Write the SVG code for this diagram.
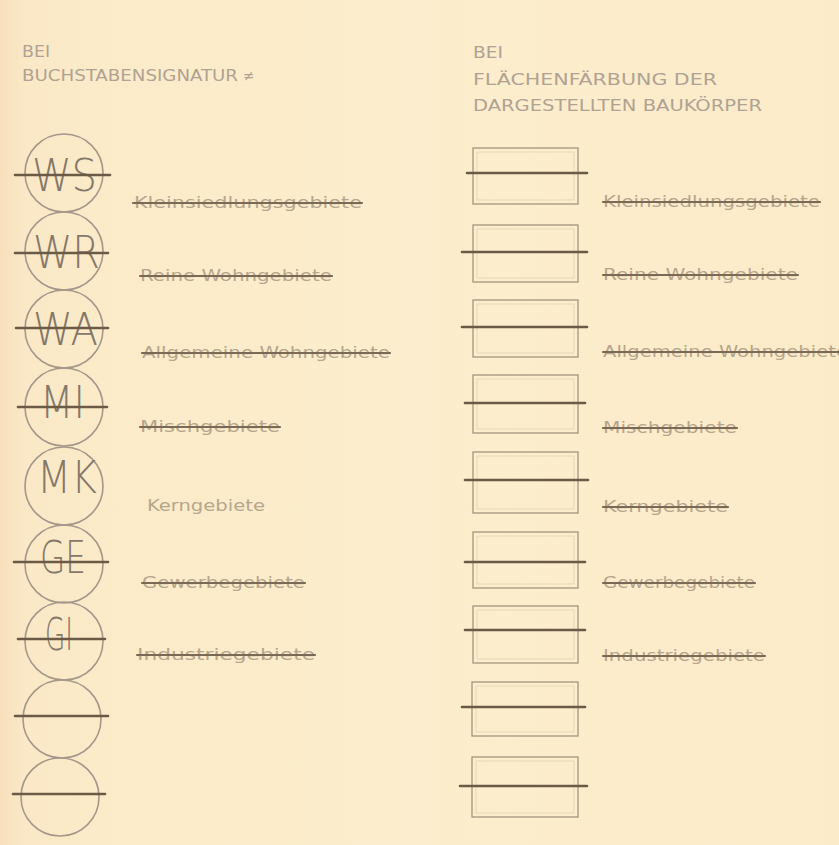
<svg xmlns="http://www.w3.org/2000/svg" width="839" height="845" viewBox="0 0 839 845">
<defs>
<linearGradient id="bg" x1="0" y1="0" x2="1" y2="0">
<stop offset="0" stop-color="#f8e0bc"/>
<stop offset="0.03" stop-color="#fae8c6"/>
<stop offset="0.12" stop-color="#fbebc9"/>
<stop offset="0.6" stop-color="#fcedcc"/>
<stop offset="1" stop-color="#fcebc9"/>
</linearGradient>
<style>
.hd{font-family:"DejaVu Sans Condensed","DejaVu Sans",sans-serif;font-size:15px;fill:#b0a293;}
.sig{font-family:"DejaVu Sans","Liberation Sans",sans-serif;font-weight:200;font-size:44px;fill:#85786a;}
.lb{font-family:"DejaVu Sans Condensed","Liberation Sans",sans-serif;font-size:16px;fill:#b6a68d;}
.cir{fill:none;stroke:#a5978a;stroke-width:1.6;}
.box{fill:none;stroke:#a3947f;stroke-width:1.3;}
.inner{fill:none;stroke:#e6d7b9;stroke-width:1;}
.st{stroke:#6b5a45;stroke-width:2.6;stroke-linecap:round;fill:none;}
.sl{stroke:#7a6a55;stroke-width:2.2;stroke-linecap:round;fill:none;}
</style>
</defs>
<rect width="839" height="845" fill="url(#bg)"/>
<rect x="305" y="0" width="135" height="845" fill="#fdf0d2" opacity="0.35"/>

<g id="header-left">
<text class="hd" x="22" y="57" textLength="28" lengthAdjust="spacingAndGlyphs">BEI</text>
<text class="hd" x="22" y="81" textLength="216" lengthAdjust="spacingAndGlyphs">BUCHSTABENSIGNATUR</text>
<text class="hd" x="243" y="81" font-size="11">≠</text>
</g>
<g id="header-right">
<text class="hd" x="473" y="58" textLength="30" lengthAdjust="spacingAndGlyphs">BEI</text>
<text class="hd" x="473" y="85" textLength="244" lengthAdjust="spacingAndGlyphs">FLÄCHENFÄRBUNG DER</text>
<text class="hd" x="473" y="111" textLength="289" lengthAdjust="spacingAndGlyphs">DARGESTELLTEN BAUKÖRPER</text>
</g>

<g id="sig-WS">
<circle class="cir" cx="64" cy="173" r="39"/>
<text class="sig" x="32" y="191" textLength="65" lengthAdjust="spacingAndGlyphs">WS</text>
<text class="lb" x="134" y="208" textLength="228" lengthAdjust="spacingAndGlyphs">Kleinsiedlungsgebiete</text>
</g>
<g id="sig-WR">
<circle class="cir" cx="64" cy="251" r="39"/>
<text class="sig" x="33" y="268" textLength="67" lengthAdjust="spacingAndGlyphs">WR</text>
<text class="lb" x="140" y="281" textLength="192" lengthAdjust="spacingAndGlyphs">Reine Wohngebiete</text>
</g>
<g id="sig-WA">
<circle class="cir" cx="64" cy="329" r="39"/>
<text class="sig" x="33" y="345" textLength="65" lengthAdjust="spacingAndGlyphs">WA</text>
<text class="lb" x="142" y="358" textLength="248" lengthAdjust="spacingAndGlyphs">Allgemeine Wohngebiete</text>
</g>
<g id="sig-MI">
<circle class="cir" cx="64" cy="407" r="39"/>
<text class="sig" x="40" y="418" textLength="45" lengthAdjust="spacingAndGlyphs">MI</text>
<text class="lb" x="140" y="432" textLength="140" lengthAdjust="spacingAndGlyphs">Mischgebiete</text>
</g>
<g id="sig-MK">
<circle class="cir" cx="64" cy="486" r="39"/>
<text class="sig" x="37" y="493" textLength="60" lengthAdjust="spacingAndGlyphs">MK</text>
<text class="lb" x="147" y="511" font-size="18" textLength="118" lengthAdjust="spacingAndGlyphs">Kerngebiete</text>
</g>
<g id="sig-GE">
<circle class="cir" cx="64" cy="564" r="39"/>
<text class="sig" x="40" y="573" textLength="46" lengthAdjust="spacingAndGlyphs">GE</text>
<text class="lb" x="142" y="588" textLength="163" lengthAdjust="spacingAndGlyphs">Gewerbegebiete</text>
</g>
<g id="sig-GI">
<circle class="cir" cx="64" cy="641" r="39"/>
<text class="sig" x="45" y="650" textLength="28" lengthAdjust="spacingAndGlyphs">GI</text>
<text class="lb" x="137" y="660" textLength="178" lengthAdjust="spacingAndGlyphs">Industriegebiete</text>
</g>
<g id="sig-blank-1">
<circle class="cir" cx="62" cy="719" r="39"/>
</g>
<g id="sig-blank-2">
<circle class="cir" cx="60" cy="797" r="39"/>
</g>

<g id="box-1">
<rect class="box" x="473" y="148" width="105" height="56"/>
<rect class="inner" x="477" y="152" width="97" height="48"/>
<text class="lb" x="603" y="207" textLength="217" lengthAdjust="spacingAndGlyphs">Kleinsiedlungsgebiete</text>
</g>
<g id="box-2">
<rect class="box" x="473" y="225" width="105" height="57"/>
<rect class="inner" x="477" y="229" width="97" height="49"/>
<text class="lb" x="603" y="280" textLength="195" lengthAdjust="spacingAndGlyphs">Reine Wohngebiete</text>
</g>
<g id="box-3">
<rect class="box" x="473" y="300" width="105" height="57"/>
<rect class="inner" x="477" y="304" width="97" height="49"/>
<text class="lb" x="603" y="357" textLength="245" lengthAdjust="spacingAndGlyphs">Allgemeine Wohngebiete</text>
</g>
<g id="box-4">
<rect class="box" x="473" y="375" width="105" height="58"/>
<rect class="inner" x="477" y="379" width="97" height="50"/>
<text class="lb" x="603" y="433" textLength="134" lengthAdjust="spacingAndGlyphs">Mischgebiete</text>
</g>
<g id="box-5">
<rect class="box" x="473" y="452" width="105" height="61"/>
<rect class="inner" x="477" y="456" width="97" height="53"/>
<text class="lb" x="603" y="512" textLength="125" lengthAdjust="spacingAndGlyphs">Kerngebiete</text>
</g>
<g id="box-6">
<rect class="box" x="473" y="532" width="105" height="56"/>
<rect class="inner" x="477" y="536" width="97" height="48"/>
<text class="lb" x="603" y="588" textLength="152" lengthAdjust="spacingAndGlyphs">Gewerbegebiete</text>
</g>
<g id="box-7">
<rect class="box" x="473" y="606" width="105" height="57"/>
<rect class="inner" x="477" y="610" width="97" height="49"/>
<text class="lb" x="603" y="661" textLength="162" lengthAdjust="spacingAndGlyphs">Industriegebiete</text>
</g>
<g id="box-8">
<rect class="box" x="472" y="682" width="106" height="54"/>
<rect class="inner" x="476" y="686" width="98" height="46"/>
</g>
<g id="box-9">
<rect class="box" x="472" y="757" width="106" height="60"/>
<rect class="inner" x="476" y="761" width="98" height="52"/>
</g>

<g id="connectors">
<line class="st" x1="15" y1="175" x2="110" y2="175"/>
<line class="st" x1="15" y1="253" x2="108" y2="253"/>
<line class="st" x1="16" y1="328" x2="108" y2="328"/>
<line class="st" x1="18" y1="407" x2="107" y2="407"/>
<line class="st" x1="14" y1="562" x2="108" y2="562"/>
<line class="st" x1="18" y1="639" x2="105" y2="639"/>
<line class="st" x1="15" y1="716" x2="108" y2="716"/>
<line class="st" x1="13" y1="794" x2="105" y2="794"/>
<line class="sl" x1="133" y1="203" x2="362" y2="203"/>
<line class="sl" x1="140" y1="276" x2="332" y2="276"/>
<line class="sl" x1="142" y1="353" x2="390" y2="353"/>
<line class="sl" x1="140" y1="427" x2="280" y2="427"/>
<line class="sl" x1="142" y1="583" x2="305" y2="583"/>
<line class="sl" x1="137" y1="655" x2="315" y2="655"/>
<line class="st" x1="467" y1="173" x2="587" y2="173"/>
<line class="st" x1="462" y1="252" x2="587" y2="252"/>
<line class="st" x1="462" y1="327" x2="587" y2="327"/>
<line class="st" x1="465" y1="403" x2="585" y2="403"/>
<line class="st" x1="465" y1="480" x2="588" y2="480"/>
<line class="st" x1="465" y1="562" x2="585" y2="562"/>
<line class="st" x1="465" y1="630" x2="585" y2="630"/>
<line class="st" x1="462" y1="707" x2="585" y2="707"/>
<line class="st" x1="460" y1="786" x2="587" y2="786"/>
<line class="sl" x1="603" y1="202" x2="820" y2="202"/>
<line class="sl" x1="603" y1="275" x2="798" y2="275"/>
<line class="sl" x1="603" y1="352" x2="839" y2="352"/>
<line class="sl" x1="603" y1="428" x2="737" y2="428"/>
<line class="sl" x1="603" y1="507" x2="728" y2="507"/>
<line class="sl" x1="603" y1="583" x2="755" y2="583"/>
<line class="sl" x1="603" y1="656" x2="765" y2="656"/>
</g>
</svg>
